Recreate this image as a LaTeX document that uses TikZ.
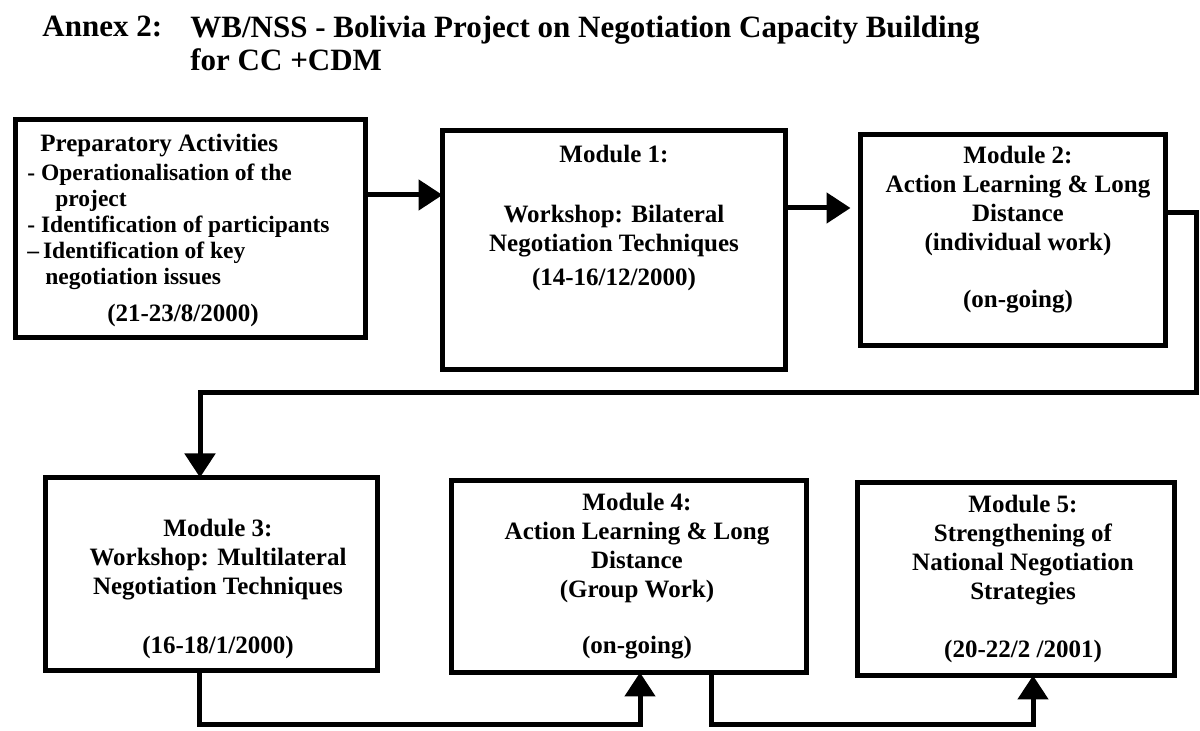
\documentclass[tikz,border=0pt]{standalone}
\usepackage{fontspec}
\setmainfont{Liberation Serif}
\usetikzlibrary{arrows.meta}

\begin{document}
\begin{tikzpicture}[x=0.5pt,y=-0.5pt,>={Triangle[length=12pt,width=15pt]},
  modbox/.style={draw,line width=2.5pt,inner sep=0pt,outer sep=0pt},
  modtext/.style={align=center,inner sep=0pt,font=\fontsize{12.5}{14.5}\selectfont\bfseries},
  headtext/.style={inner sep=0pt,font=\fontsize{15.5}{16.5}\selectfont\bfseries},
  flow/.style={->,line width=2.5pt}]

% Page frame (pixel units, y downwards)
\useasboundingbox (0,0) rectangle (1200,731);

% Title
\node[headtext,anchor=north west] (annex) at (42,16) {Annex 2:};
\node[headtext,anchor=north west,align=left] (title) at (190,16)
  {WB/NSS - Bolivia Project on Negotiation Capacity Building\\for CC +CDM};

% Module boxes, top row
\node[modbox,minimum width=175pt,minimum height=109pt] (prep) at (190.5,228.5) {};
\node[modbox,minimum width=171.5pt,minimum height=119.5pt] (mod1) at (614,250) {};
\node[modbox,minimum width=152.5pt,minimum height=105.5pt] (mod2) at (1013,240) {};

% Module boxes, bottom row
\node[modbox,minimum width=166pt,minimum height=96.5pt] (mod3) at (211.5,574) {};
\node[modbox,minimum width=177.5pt,minimum height=96pt] (mod4) at (629,576.5) {};
\node[modbox,minimum width=158.5pt,minimum height=96.5pt] (mod5) at (1016,579) {};

% Preparatory activities text
\node[modtext,anchor=base west] (prephead) at (40,152) {Preparatory Activities};
\node[modtext,anchor=north west,align=left,font=\fontsize{11.75}{13}\selectfont\bfseries] (preplist) at (27,164)
  {- Operationalisation of the\\\hspace{14pt}project\\- Identification of participants\\--\,Identification of key\\\hspace{9pt}negotiation issues};
\node[modtext,anchor=base] (prepdate) at (183,322) {(21-23/8/2000)};

% Module texts
\node[modtext,anchor=north] (mod1text) at (614,145)
  {Module 1:\\[15.5pt]Workshop: Bilateral\\Negotiation Techniques\\[2.5pt](14-16/12/2000)};
\node[modtext,anchor=north] (mod2text) at (1018,146)
  {Module 2:\\Action Learning \& Long\\Distance\\(individual work)\\[14pt](on-going)};
\node[modtext,anchor=north] (mod3text) at (218,519)
  {Module 3:\\Workshop: Multilateral\\Negotiation Techniques\\[15pt](16-18/1/2000)};
\node[modtext,anchor=north] (mod4text) at (637,493)
  {Module 4:\\Action Learning \& Long\\Distance\\(Group Work)\\[13.5pt](on-going)};
\node[modtext,anchor=north] (mod5text) at (1023,495)
  {Module 5:\\Strengthening of\\National Negotiation\\Strategies\\[14.5pt](20-22/2 /2001)};

% Bend points of the connectors
\coordinate (row1a) at (0,195);
\coordinate (row1b) at (0,208);
\coordinate (retA) at (1196,213);
\coordinate (retB) at (1196,393);
\coordinate (retC) at (200,393);
\coordinate (lowA) at (199,725);
\coordinate (lowB) at (640,725);
\coordinate (lowC) at (711,725);
\coordinate (lowD) at (1033,725);

% Arrows along the top row
\draw[flow] (prep.east |- row1a) -- (mod1.west |- row1a);
\draw[flow,shorten >=5pt] (mod1.east |- row1b) -- (mod2.west |- row1b);

% Return line down to module 3
\draw[flow] (mod2.east |- retA) -- (retA) -- (retB) -- (retC) -- (retC |- mod3.north);

% Arrows along the bottom row
\draw[flow] (lowA |- mod3.south) -- (lowA) -- (lowB) -- (lowB |- mod4.south);
\draw[flow] (lowC |- mod4.south) -- (lowC) -- (lowD) -- (lowD |- mod5.south);

\end{tikzpicture}
\end{document}
